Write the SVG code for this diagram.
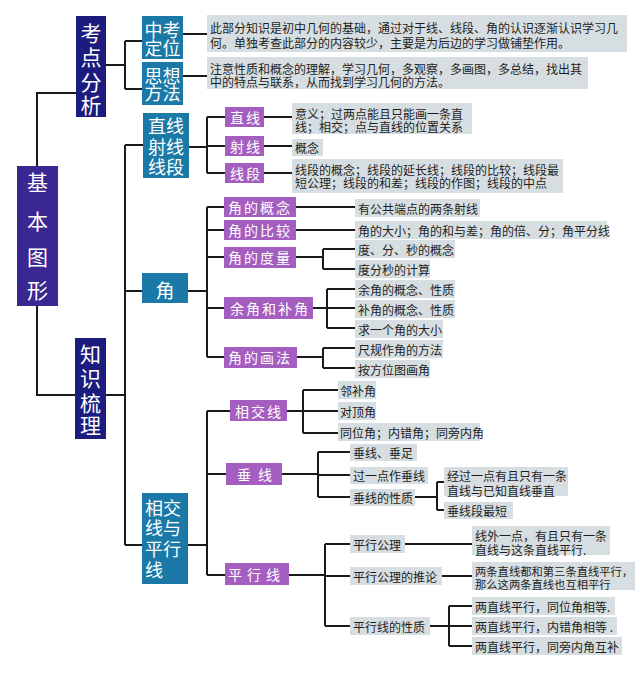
<svg xmlns="http://www.w3.org/2000/svg" width="640" height="678" viewBox="0 0 640 678">
<style>
text{font-family:"Noto Sans CJK SC","Noto Sans",sans-serif;dominant-baseline:central}
.bg{fill:#ffffff}
.root{fill:#3a2791}
.navy{fill:#1c1c7e}
.teal{fill:#1a79a6}
.purple{fill:#a45ec0}
.gray{fill:#d7dee1}
.wt{fill:#ffffff}
.big{font-size:21px;text-anchor:middle}
.mid{font-size:18px;text-anchor:middle}
.pt{font-size:14px;fill:#ffffff}
.lt{font-size:12px;fill:#1e1e1e}
.dt{font-size:12px;fill:#1e1e1e}
.con path{fill:none;stroke:#1a1a1a;stroke-width:2}
</style>
<rect class="bg" x="0" y="0" width="640" height="678"/>
<g class="con" id="connectors">
<path d="M37,166V93H76"/>
<path d="M37,306V395H75"/>
<path d="M106,65H125M125,41V89M125,41H142M125,89H142"/>
<path d="M183,34H207M183,76H207"/>
<path d="M106,395H125M125,145V545M125,145H143M125,291H142M125,545H142"/>
<path d="M189,147H207M207,117V173M207,117H225M207,146H225M207,173H225"/>
<path d="M264,117H292M264,146H292M264,173H292"/>
<path d="M188,291H207M207,207V357M207,207H224M207,230H224M207,257H224M207,308H224M207,357H224"/>
<path d="M296,207H356M296,230H356"/>
<path d="M296,257H323M323,249V269M323,249H356M323,269H356"/>
<path d="M313,308H327M327,289V328M327,289H356M327,308H356M327,328H356"/>
<path d="M297,357H323M323,348V368M323,348H356M323,368H356"/>
<path d="M188,545H207M207,411V575M207,411H230M207,474H226M207,575H225"/>
<path d="M287,411H303M303,390V433M303,390H338M303,411H338M303,433H338"/>
<path d="M282,474H318M318,452V497M318,452H350M318,475H350M318,497H350"/>
<path d="M415,497H437M437,482V510M437,482H444M437,510H444"/>
<path d="M289,575H325M325,544V626M325,544H350M325,576H350M325,626H350"/>
<path d="M405,544H472M442,576H472"/>
<path d="M430,626H449M449,606V646M449,606H472M449,626H472M449,646H472"/>
</g>
<g id="root">
<rect class="root" x="17" y="166" width="41" height="140"/>
<text class="wt big" x="37.5" y="181"><tspan x="37.5" y="181">基</tspan><tspan x="37.5" y="220">本</tspan><tspan x="37.5" y="256">图</tspan><tspan x="37.5" y="289">形</tspan></text>
</g>
<g id="kaodian">
<rect class="navy" x="76" y="16" width="30" height="101"/>
<text class="wt big" x="91" y="32"><tspan x="91" y="32">考</tspan><tspan x="91" y="56">点</tspan><tspan x="91" y="81">分</tspan><tspan x="91" y="104">析</tspan></text>
</g>
<g id="zhishi">
<rect class="navy" x="75" y="338" width="31" height="101"/>
<text class="wt big" x="90.5" y="353"><tspan x="90.5" y="353">知</tspan><tspan x="90.5" y="377">识</tspan><tspan x="90.5" y="402">梳</tspan><tspan x="90.5" y="424">理</tspan></text>
</g>
<g id="zhongkao">
<rect class="teal" x="142" y="16" width="41" height="43"/>
<text class="wt mid" x="162.5" y="29"><tspan x="162.5" y="29">中考</tspan><tspan x="162.5" y="47">定位</tspan></text>
</g>
<g id="sixiang">
<rect class="teal" x="142" y="62" width="41" height="43"/>
<text class="wt mid" x="162.5" y="75"><tspan x="162.5" y="75">思想</tspan><tspan x="162.5" y="92">方法</tspan></text>
</g>
<g id="desc1">
<rect class="gray" x="207" y="15" width="420" height="37"/>
<text class="dt" x="210" y="26.5"><tspan x="210" y="26.5">此部分知识是初中几何的基础，通过对于线、线段、角的认识逐渐认识学习几</tspan><tspan x="210" y="41.5">何。单独考查此部分的内容较少，主要是为后边的学习做铺垫作用。</tspan></text>
</g>
<g id="desc2">
<rect class="gray" x="207" y="57" width="381" height="32"/>
<text class="dt" x="210" y="67.5"><tspan x="210" y="67.5">注意性质和概念的理解，学习几何，多观察，多画图，多总结，找出其</tspan><tspan x="210" y="81">中的特点与联系，从而找到学习几何的方法。</tspan></text>
</g>
<g id="zhixian-group">
<rect class="teal" x="143" y="113" width="46" height="65"/>
<text class="wt mid" x="166" y="125"><tspan x="166" y="125">直线</tspan><tspan x="166" y="146">射线</tspan><tspan x="166" y="166">线段</tspan></text>
</g>
<g id="jiao">
<rect class="teal" x="142" y="273" width="46" height="30"/>
<text class="wt mid" x="165" y="289" style="font-size:19px">角</text>
</g>
<g id="xiangjiao-pingxing">
<rect class="teal" x="142" y="493" width="46" height="91"/>
<text class="wt" x="145" y="507" style="font-size:18px"><tspan x="145" y="507">相交</tspan><tspan x="145" y="527">线与</tspan><tspan x="145" y="548">平行</tspan><tspan x="145" y="569">线</tspan></text>
</g>
<g id="p-zhixian"><rect class="purple" x="225" y="107" width="39" height="20"/><text class="pt" x="230" y="117" letter-spacing="2">直线</text></g>
<g id="p-shexian"><rect class="purple" x="225" y="136" width="39" height="20"/><text class="pt" x="230" y="146" letter-spacing="2">射线</text></g>
<g id="p-xianduan"><rect class="purple" x="225" y="163" width="39" height="20"/><text class="pt" x="230" y="173" letter-spacing="2">线段</text></g>
<g id="p-gainian"><rect class="purple" x="224" y="197" width="72" height="20"/><text class="pt" x="228" y="207" letter-spacing="2">角的概念</text></g>
<g id="p-bijiao"><rect class="purple" x="224" y="220" width="72" height="20"/><text class="pt" x="228" y="230" letter-spacing="2">角的比较</text></g>
<g id="p-duliang"><rect class="purple" x="224" y="247" width="72" height="21"/><text class="pt" x="228" y="257" letter-spacing="2">角的度量</text></g>
<g id="p-yujiao"><rect class="purple" x="224" y="297" width="89" height="22"/><text class="pt" x="230" y="308" letter-spacing="2">余角和补角</text></g>
<g id="p-huafa"><rect class="purple" x="224" y="347" width="73" height="21"/><text class="pt" x="228" y="357" letter-spacing="2">角的画法</text></g>
<g id="p-xiangjiaoxian"><rect class="purple" x="230" y="400" width="57" height="21"/><text class="pt" x="235" y="411" letter-spacing="2">相交线</text></g>
<g id="p-chuixian"><rect class="purple" x="226" y="463" width="56" height="22"/><text class="pt" x="237" y="474" letter-spacing="7">垂线</text></g>
<g id="p-pingxingxian"><rect class="purple" x="225" y="563" width="64" height="22"/><text class="pt" x="228" y="574" letter-spacing="5">平行线</text></g>
<g id="l-yiyi"><rect class="gray" x="292" y="103" width="180" height="31"/><text class="lt" x="295" y="112.5"><tspan x="295" y="112.5">意义；过两点能且只能画一条直</tspan><tspan x="295" y="126">线；相交；点与直线的位置关系</tspan></text></g>
<g id="l-gainian"><rect class="gray" x="292" y="139" width="31" height="17"/><text class="lt" x="295" y="147.5">概念</text></g>
<g id="l-xianduan"><rect class="gray" x="292" y="159" width="271" height="34"/><text class="lt" x="295" y="169"><tspan x="295" y="169">线段的概念；线段的延长线；线段的比较；线段最</tspan><tspan x="295" y="182">短公理；线段的和差；线段的作图；线段的中点</tspan></text></g>
<g id="l-j1"><rect class="gray" x="355" y="199" width="125" height="18"/><text class="lt" x="358" y="208">有公共端点的两条射线</text></g>
<g id="l-j2"><rect class="gray" x="355" y="221" width="252" height="18"/><text class="lt" x="358" y="230">角的大小；角的和与差；角的倍、分；角平分线</text></g>
<g id="l-j3"><rect class="gray" x="355" y="240" width="100" height="18"/><text class="lt" x="358" y="249">度、分、秒的概念</text></g>
<g id="l-j4"><rect class="gray" x="355" y="260" width="75" height="18"/><text class="lt" x="358" y="269">度分秒的计算</text></g>
<g id="l-j5"><rect class="gray" x="355" y="280" width="100" height="18"/><text class="lt" x="358" y="289">余角的概念、性质</text></g>
<g id="l-j6"><rect class="gray" x="355" y="300" width="100" height="18"/><text class="lt" x="358" y="309">补角的概念、性质</text></g>
<g id="l-j7"><rect class="gray" x="355" y="320" width="88" height="18"/><text class="lt" x="358" y="329">求一个角的大小</text></g>
<g id="l-j8"><rect class="gray" x="355" y="340" width="88" height="18"/><text class="lt" x="358" y="349">尺规作角的方法</text></g>
<g id="l-j9"><rect class="gray" x="355" y="360" width="75" height="18"/><text class="lt" x="358" y="369">按方位图画角</text></g>
<g id="l-x1"><rect class="gray" x="338" y="381" width="38" height="18"/><text class="lt" x="340" y="390">邻补角</text></g>
<g id="l-x2"><rect class="gray" x="338" y="402" width="38" height="18"/><text class="lt" x="340" y="411">对顶角</text></g>
<g id="l-x3"><rect class="gray" x="338" y="423" width="142" height="18"/><text class="lt" x="340" y="432">同位角；内错角；同旁内角</text></g>
<g id="l-c1"><rect class="gray" x="350" y="444" width="67" height="17"/><text class="lt" x="353" y="452.5">垂线、垂足</text></g>
<g id="l-c2"><rect class="gray" x="350" y="467" width="78" height="17"/><text class="lt" x="353" y="475.5">过一点作垂线</text></g>
<g id="l-c3"><rect class="gray" x="350" y="489" width="65" height="17"/><text class="lt" x="353" y="497.5">垂线的性质</text></g>
<g id="l-c4"><rect class="gray" x="444" y="467" width="124" height="29"/><text class="lt" x="447" y="475"><tspan x="447" y="475">经过一点有且只有一条</tspan><tspan x="447" y="489.5">直线与已知直线垂直</tspan></text></g>
<g id="l-c5"><rect class="gray" x="444" y="502" width="69" height="17"/><text class="lt" x="447" y="510.5">垂线段最短</text></g>
<g id="l-p1"><rect class="gray" x="350" y="535" width="55" height="18"/><text class="lt" x="353" y="544">平行公理</text></g>
<g id="l-p2"><rect class="gray" x="350" y="567" width="92" height="18"/><text class="lt" x="353" y="576">平行公理的推论</text></g>
<g id="l-p3"><rect class="gray" x="350" y="617" width="80" height="18"/><text class="lt" x="353" y="626">平行线的性质</text></g>
<g id="l-p4"><rect class="gray" x="472" y="526" width="138" height="29"/><text class="lt" x="475" y="535"><tspan x="475" y="535">线外一点，有且只有一条</tspan><tspan x="475" y="549">直线与这条直线平行.</tspan></text></g>
<g id="l-p5"><rect class="gray" x="472" y="562" width="163" height="28"/><text class="lt" x="475" y="571" style="font-size:11.3px"><tspan x="475" y="571">两条直线都和第三条直线平行，</tspan><tspan x="475" y="584">那么这两条直线也互相平行</tspan></text></g>
<g id="l-p6"><rect class="gray" x="472" y="597" width="143" height="18"/><text class="lt" x="475" y="606">两直线平行，同位角相等.</text></g>
<g id="l-p7"><rect class="gray" x="472" y="617" width="145" height="18"/><text class="lt" x="475" y="626">两直线平行，内错角相等 .</text></g>
<g id="l-p8"><rect class="gray" x="472" y="637" width="150" height="18"/><text class="lt" x="475" y="646">两直线平行，同旁内角互补</text></g>
</svg>
